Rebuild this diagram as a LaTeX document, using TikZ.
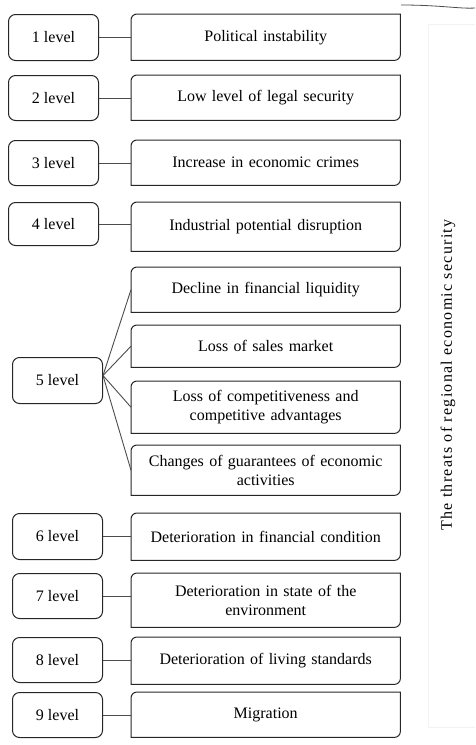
\documentclass[tikz,border=0pt]{standalone}
\usepackage{fontspec}
\setmainfont{Liberation Serif}
\usetikzlibrary{calc}
\newcommand\threatoutline[1]{\draw[outline] (#1.south west) -- ([yshift=-6pt]#1.north west) arc[start angle=180,end angle=90,radius=6pt] -- (#1.north east) -- ([yshift=6pt]#1.south east) arc[start angle=0,end angle=-90,radius=6pt] -- cycle;}
\begin{document}
\begin{tikzpicture}[x=1pt,y=-1pt,
  lvl/.style={draw=black!85, line width=1pt, rounded corners=7pt, anchor=north west, inner sep=0pt, minimum width=90pt, font=\fontsize{16}{19}\selectfont},
  thr/.style={anchor=north west, inner sep=0pt, align=center, minimum width=269pt, text width=262pt, font=\fontsize{16}{18.5}\selectfont},
  outline/.style={draw=black!85, line width=1pt},
  link/.style={draw=black!70, line width=0.9pt}]
\useasboundingbox (0,0) rectangle (475,745);
% faint frame and stray stroke
\draw[black!5, line width=0.6pt] (475,24) -- (428,24) -- (428,727) -- (475,727);
\draw[black!70, line width=0.8pt] (401,5) .. controls (440,5) and (460,9) .. (475,8);
% left level boxes
\node[lvl, minimum height=46pt] (l1) at (8,14) {1 level};
\node[lvl, minimum height=45pt] (l2) at (8,75) {2 level};
\node[lvl, minimum height=45pt] (l3) at (8,140) {3 level};
\node[lvl, minimum height=43pt] (l4) at (8,202) {4 level};
\node[lvl, minimum height=46pt] (l5) at (12,357) {5 level};
\node[lvl, minimum height=46pt] (l6) at (12,513) {6 level};
\node[lvl, minimum height=45pt] (l7) at (12,573) {7 level};
\node[lvl, minimum height=45pt] (l8) at (12,637) {8 level};
\node[lvl, minimum height=45pt] (l9) at (12,692) {9 level};
% threat boxes
\node[thr, minimum height=46pt] (r1) at (131,14) {Political instability};
\node[thr, minimum height=45pt] (r2) at (131,75) {Low level of legal security};
\node[thr, minimum height=45pt] (r3) at (131,140) {Increase in economic crimes};
\node[thr, minimum height=49pt] (r4) at (131,202) {Industrial potential disruption};
\node[thr, minimum height=45pt] (r5a) at (131,267) {Decline in financial liquidity};
\node[thr, minimum height=42pt] (r5b) at (131,325) {Loss of sales market};
\node[thr, minimum height=52pt] (r5c) at (131,381) {Loss of competitiveness and\\competitive advantages};
\node[thr, minimum height=50pt] (r5d) at (131,445) {Changes of guarantees of economic\\activities};
\node[thr, minimum height=47pt] (r6) at (131,513) {Deterioration in financial condition};
\node[thr, minimum height=54pt] (r7) at (131,573) {Deterioration in state of the\\environment};
\node[thr, minimum height=47pt] (r8) at (131,637) {Deterioration of living standards};
\node[thr, minimum height=45pt] (r9) at (131,692) {Migration};
\foreach \n in {r1,r2,r3,r4,r5a,r5b,r5c,r5d,r6,r7,r8,r9}{\threatoutline{\n}}
% connectors
\foreach \i in {1,2,3,4,6,7,8,9}{\draw[link] (l\i.east) -- (l\i.east -| r\i.west);}
\coordinate (fan) at ([yshift=5pt]l5.east);
\foreach \t in {r5a,r5b,r5c,r5d}{\draw[link] (fan) -- (\t.west);}
% vertical title
\node[rotate=90, inner sep=0pt, font=\fontsize{16}{19}\selectfont\addfontfeature{LetterSpace=8}] (title) at (448,375) {The threats of regional economic security};
\end{tikzpicture}
\end{document}
